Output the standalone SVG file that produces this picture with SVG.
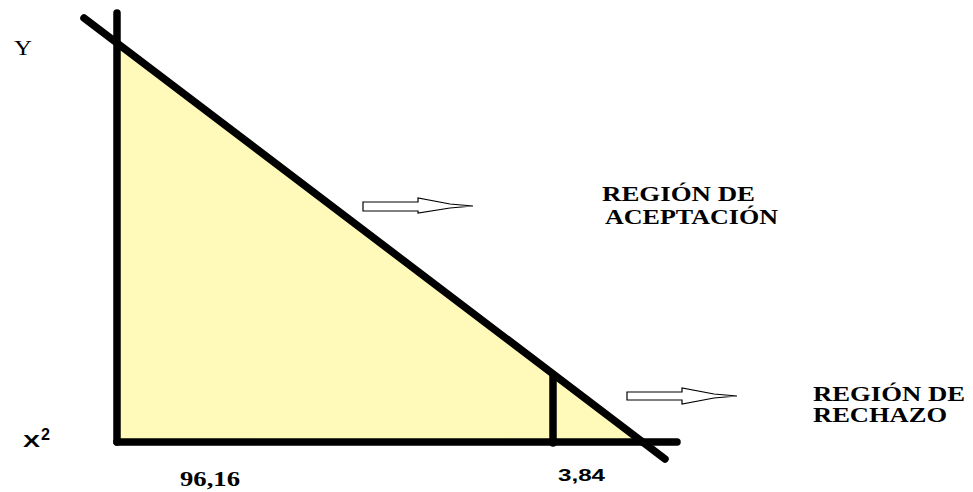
<svg xmlns="http://www.w3.org/2000/svg" width="973" height="492" viewBox="0 0 973 492">
<style>
.ax{stroke:#000;stroke-width:7.5;stroke-linecap:round;fill:none}
.arr{fill:#fff;stroke:#000;stroke-width:1.2}
.lbl{font-family:"Liberation Serif",serif;font-weight:bold;font-size:20px;fill:#000}
.num{font-family:"Liberation Sans",sans-serif;font-weight:bold;font-size:17px;fill:#000}
</style>
<rect width="973" height="492" fill="#fff"/>
<g id="region">
<polygon points="117,43 643,442 117,442" fill="#FFFAB9"/>
</g>
<g id="axes">
<line class="ax" x1="117" y1="13" x2="117" y2="442"/>
<line class="ax" x1="117" y1="442" x2="677" y2="442"/>
<line class="ax" x1="84" y1="18" x2="665" y2="459"/>
<line class="ax" x1="553" y1="376" x2="553" y2="443"/>
</g>
<g id="connectors">
<polygon class="arr" points="363,202 418,202 418,198 450,204 473,206 450,208 418,213 418,211 363,211"/>
<polygon class="arr" points="627,392 682,392 682,388 714,394 737,396 714,398 682,404 682,400 627,400"/>
</g>
<g id="labels">
<text x="14" y="55" font-family="Liberation Serif,serif" font-size="21" textLength="18" lengthAdjust="spacingAndGlyphs">Y</text>
<text class="num" x="23" y="447" textLength="17" lengthAdjust="spacingAndGlyphs">X</text>
<text class="num" x="41" y="440" font-size="12" textLength="9" lengthAdjust="spacingAndGlyphs">2</text>
<text class="lbl" x="602" y="201" textLength="153" lengthAdjust="spacingAndGlyphs">REGIÓN DE</text>
<text class="lbl" x="605" y="224" textLength="173" lengthAdjust="spacingAndGlyphs">ACEPTACIÓN</text>
<text class="lbl" x="813" y="401" textLength="152" lengthAdjust="spacingAndGlyphs">REGIÓN DE</text>
<text class="lbl" x="813" y="422" textLength="134" lengthAdjust="spacingAndGlyphs">RECHAZO</text>
<text class="lbl" x="180" y="486" font-size="18" textLength="60" lengthAdjust="spacingAndGlyphs">96,16</text>
<text class="num" x="558" y="481" textLength="47" lengthAdjust="spacingAndGlyphs">3,84</text>
</g>
</svg>
